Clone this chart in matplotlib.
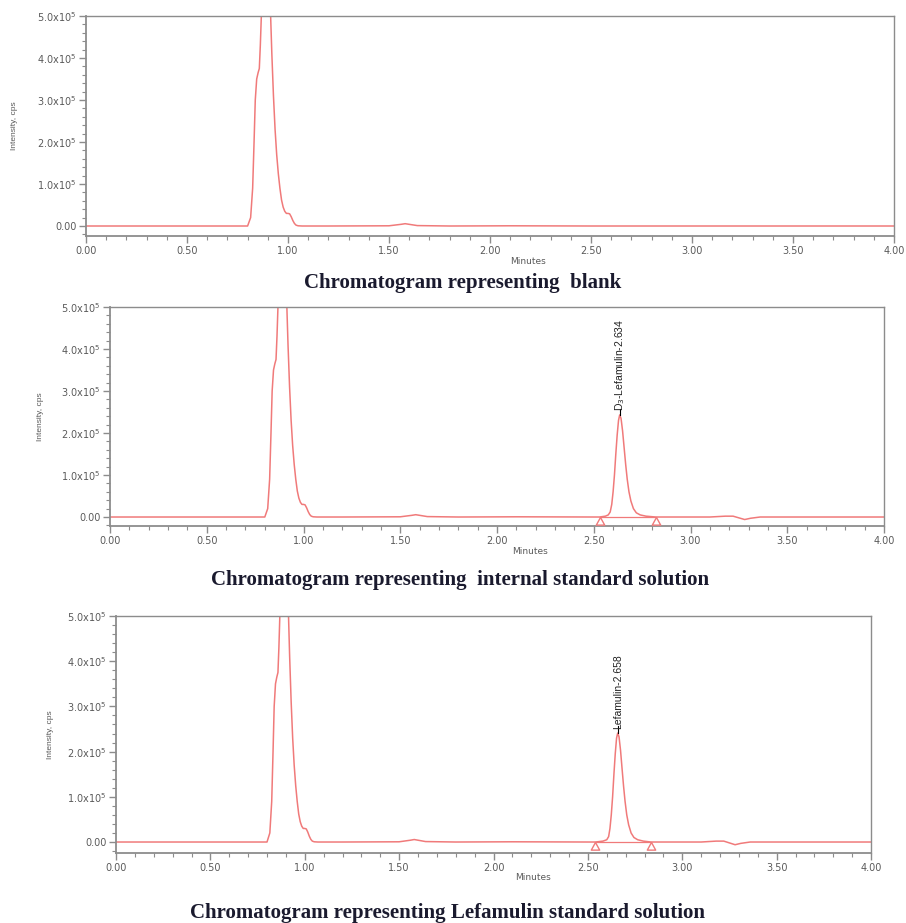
import numpy as np
import matplotlib
matplotlib.use("Agg")
from matplotlib import pyplot as plt
from matplotlib.ticker import FuncFormatter, MultipleLocator

# retention time (min) and intensity (x1e5 cps)
blank_t = [0.00, 0.40, 0.80, 0.815, 0.825, 0.832, 0.838, 0.845, 0.852, 0.858, 0.863, 0.868,
           0.88, 0.90, 0.914, 0.92, 0.928, 0.936, 0.944, 0.952, 0.96, 0.968, 0.976, 0.984,
           0.992, 1.00, 1.008, 1.016, 1.024, 1.032, 1.04, 1.05, 1.07, 1.20, 1.50, 1.56,
           1.58, 1.60, 1.64, 1.80, 2.10, 2.50, 3.00, 3.50, 4.00]
blank_i = [0.0, 0.0, 0.0, 0.2, 0.9, 2.0, 3.0, 3.5, 3.65, 3.75, 4.3, 5.0,
           6.5, 6.5, 5.0, 4.1, 3.1, 2.3, 1.7, 1.25, 0.9, 0.62, 0.45, 0.35,
           0.3, 0.3, 0.29, 0.22, 0.13, 0.06, 0.02, 0.005, 0.0, 0.0, 0.005, 0.04,
           0.055, 0.04, 0.01, 0.0, 0.005, 0.0, 0.0, 0.0, 0.0]

is_t = [0.00, 0.40, 0.80, 0.815, 0.825, 0.832, 0.838, 0.845, 0.852, 0.858, 0.863, 0.868,
        0.88, 0.90, 0.914, 0.92, 0.928, 0.936, 0.944, 0.952, 0.96, 0.968, 0.976, 0.984,
        0.992, 1.00, 1.008, 1.016, 1.024, 1.032, 1.04, 1.05, 1.07, 1.20, 1.50, 1.56,
        1.58, 1.60, 1.64, 1.80, 2.10, 2.50, 2.53, 2.56, 2.575, 2.585, 2.593, 2.60, 2.607,
        2.614, 2.621, 2.628, 2.634, 2.641, 2.649, 2.657, 2.665, 2.673, 2.682, 2.692,
        2.705, 2.72, 2.74, 2.77, 2.82, 3.10, 3.18, 3.22, 3.25, 3.28, 3.31, 3.36, 3.50, 4.00]
is_i = [0.0, 0.0, 0.0, 0.2, 0.9, 2.0, 3.0, 3.5, 3.65, 3.75, 4.3, 5.0,
        6.5, 6.5, 5.0, 4.1, 3.1, 2.3, 1.7, 1.25, 0.9, 0.62, 0.45, 0.35,
        0.3, 0.3, 0.29, 0.22, 0.13, 0.06, 0.02, 0.005, 0.0, 0.0, 0.005, 0.04,
        0.055, 0.04, 0.01, 0.0, 0.005, 0.0, 0.0, 0.02, 0.05, 0.12, 0.3, 0.6, 1.0,
        1.5, 1.95, 2.3, 2.43, 2.35, 2.05, 1.65, 1.25, 0.9, 0.6, 0.38,
        0.2, 0.1, 0.05, 0.02, 0.0, 0.0, 0.02, 0.02, -0.02, -0.06, -0.03, 0.0, 0.0, 0.0]

std_t = [0.00, 0.40, 0.80, 0.815, 0.825, 0.832, 0.838, 0.845, 0.852, 0.858, 0.863, 0.868,
         0.88, 0.90, 0.914, 0.92, 0.928, 0.936, 0.944, 0.952, 0.96, 0.968, 0.976, 0.984,
         0.992, 1.00, 1.008, 1.016, 1.024, 1.032, 1.04, 1.05, 1.07, 1.20, 1.50, 1.56,
         1.58, 1.60, 1.64, 1.80, 2.10, 2.50, 2.54, 2.58, 2.60, 2.61, 2.617, 2.624, 2.631,
         2.638, 2.645, 2.652, 2.658, 2.665, 2.673, 2.681, 2.689, 2.697, 2.706, 2.716,
         2.729, 2.744, 2.764, 2.794, 2.834, 3.10, 3.18, 3.22, 3.25, 3.28, 3.31, 3.36, 3.50, 4.00]
std_i = [0.0, 0.0, 0.0, 0.2, 0.9, 2.0, 3.0, 3.5, 3.65, 3.75, 4.3, 5.0,
         6.5, 6.5, 5.0, 4.1, 3.1, 2.3, 1.7, 1.25, 0.9, 0.62, 0.45, 0.35,
         0.3, 0.3, 0.29, 0.22, 0.13, 0.06, 0.02, 0.005, 0.0, 0.0, 0.005, 0.04,
         0.055, 0.04, 0.01, 0.0, 0.005, 0.0, 0.0, 0.02, 0.05, 0.12, 0.3, 0.6, 1.0,
         1.5, 1.95, 2.3, 2.41, 2.33, 2.03, 1.63, 1.24, 0.9, 0.6, 0.38,
         0.2, 0.1, 0.05, 0.02, 0.0, 0.0, 0.02, 0.02, -0.02, -0.06, -0.03, 0.0, 0.0, 0.0]

# labelled peaks: (retention time, name) and integration marks
is_peak_rt, is_peak_name = 2.634, "D$_3$-Lefamulin"
is_marks = [2.53, 2.82]
std_peak_rt, std_peak_name = 2.658, "Lefamulin"
std_marks = [2.54, 2.834]

captions = ["Chromatogram representing  blank",
            "Chromatogram representing  internal standard solution",
            "Chromatogram representing Lefamulin standard solution"]

x_ticks = [0.0, 0.5, 1.0, 1.5, 2.0, 2.5, 3.0, 3.5, 4.0]
y_ticks = [0.0, 1e5, 2e5, 3e5, 4e5, 5e5]

trace_color = "#f07a7a"
frame_color = "#8c8c8c"
label_color = "#5a5a5a"
tick_font = ["DejaVu Sans"]
note_font = ["Liberation Sans", "DejaVu Sans"]

W, H = 906, 923
fig = plt.figure(figsize=(W / 100, H / 100), dpi=100)

# axes boxes in pixels: left, right, top, bottom, and lower y limit
boxes = [(86, 894, 16, 236, -0.238e5),
         (110, 884, 307, 526, -0.214e5),
         (116, 871, 616, 853, -0.243e5)]
caption_xy = [(463, 283), (460, 580), (448, 913)]
minutes_x = [528, 530, 533]
ylabel_x = [14, 40, 50]


def fmt_y(v, pos):
    if abs(v) < 1:
        return "0.00"
    return f"{v / 1e5:.1f}x10$^5$"


def tri_marker():
    # open triangle hanging below its anchor point
    return [(0, 0), (-0.55, -1), (0.55, -1), (0, 0)]


traces = [(blank_t, blank_i), (is_t, is_i), (std_t, std_i)]
peaks = [None, (is_peak_rt, is_peak_name, is_marks), (std_peak_rt, std_peak_name, std_marks)]

for k, ((l, r, t, b, ymin), (tt, ii)) in enumerate(zip(boxes, traces)):
    ax = fig.add_axes([l / W, 1 - b / H, (r - l) / W, (b - t) / H])
    ax.plot(tt, np.array(ii) * 1e5, color=trace_color, lw=1.1)
    ax.set_xlim(0, 4.0)
    ax.set_ylim(ymin, 5e5)

    ax.set_xticks(x_ticks)
    ax.set_yticks(y_ticks)
    ax.xaxis.set_minor_locator(MultipleLocator(0.1))
    ax.yaxis.set_minor_locator(MultipleLocator(0.2e5))
    ax.xaxis.set_major_formatter(FuncFormatter(lambda v, p: f"{v:.2f}"))
    ax.yaxis.set_major_formatter(FuncFormatter(fmt_y))
    ax.tick_params(which="major", length=5, width=1, color=frame_color,
                   labelsize=7, labelcolor=label_color, pad=2)
    ax.tick_params(which="minor", length=3, width=0.8, color=frame_color)
    for lab in ax.get_xticklabels() + ax.get_yticklabels():
        lab.set_family(tick_font)
    for side, sp in ax.spines.items():
        sp.set_color(frame_color)
        sp.set_linewidth(1.3 if side in ("left", "bottom") else 1.0)

    fig.text(minutes_x[k] / W, 1 - (b + 25) / H, "Minutes", ha="center", va="center",
             fontsize=6.5, color=label_color, family=tick_font)
    fig.text(ylabel_x[k] / W, 1 - (t + b) / 2 / H, "Intensity, cps", rotation=90,
             ha="center", va="center", fontsize=6, color=label_color, family=note_font)
    cx, cy = caption_xy[k]
    fig.text(cx / W, 1 - cy / H, captions[k],
             ha="center", va="center", fontsize=15, fontweight="bold",
             family=["Liberation Serif", "DejaVu Serif"], color="#1a1a2e")

    if peaks[k] is not None:
        rt, name, marks = peaks[k]
        apex = np.interp(rt, tt, ii) * 1e5
        ax.plot([rt, rt], [apex, apex + 0.15e5], color="black", lw=0.8)
        ax.annotate(f"{name}-{rt:.3f}", xy=(rt, apex), xytext=(0, 3),
                    textcoords="offset points", rotation=90, ha="center", va="bottom",
                    fontsize=7.5, family=note_font, color="#222222")
        ax.plot(marks, [0, 0], color=trace_color, lw=0.9)
        ax.plot(marks, [0, 0], linestyle="none", marker=tri_marker(), markersize=11,
                markerfacecolor="white", markeredgecolor=trace_color, markeredgewidth=1.0,
                clip_on=False, zorder=3)

fig.savefig("out.png", dpi=100)
